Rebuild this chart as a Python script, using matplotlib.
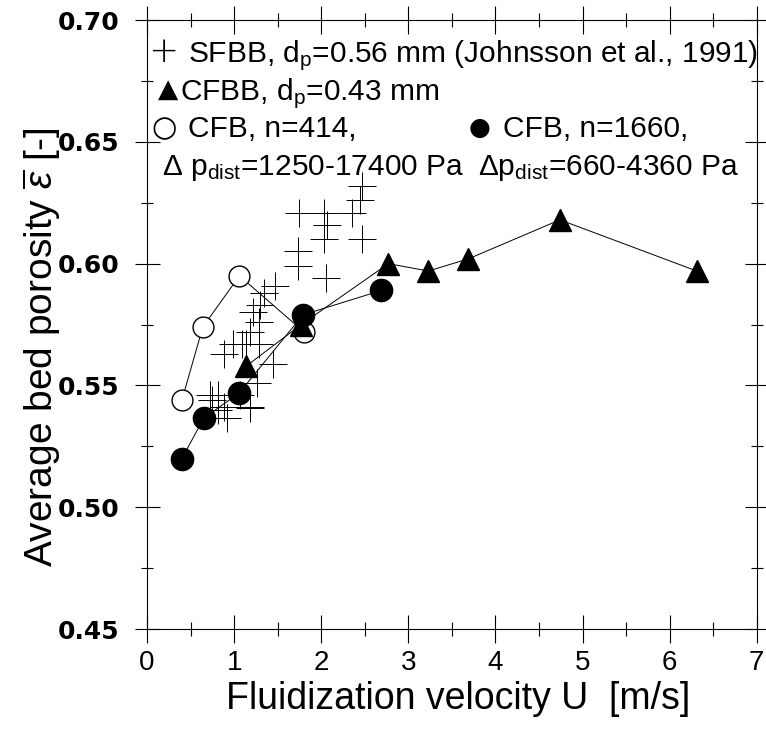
import matplotlib
matplotlib.use("Agg")
import matplotlib.pyplot as plt
from matplotlib.ticker import MultipleLocator

plt.rcParams["font.family"] = ["Liberation Sans", "DejaVu Sans"]
plt.rcParams["mathtext.fontset"] = "custom"
plt.rcParams["mathtext.rm"] = "Liberation Sans"
plt.rcParams["mathtext.it"] = "Liberation Sans:italic"
plt.rcParams["mathtext.bf"] = "Liberation Sans:bold"

# SFBB, dp=0.56 mm (Johnsson et al., 1991) - scattered crosses
sfbb_u = [1.74, 2.03, 2.35, 2.47, 2.45, 2.07, 2.03, 2.47, 1.73, 1.73, 2.05,
          1.47, 1.34, 1.30, 1.22, 1.28, 1.18, 1.09, 0.99, 0.88, 1.13, 1.28,
          1.45, 1.26, 0.82, 0.72, 1.18, 0.88, 0.92, 0.74, 0.82, 1.07, 1.18]
sfbb_eps = [0.621, 0.621, 0.621, 0.632, 0.626, 0.616, 0.610, 0.610, 0.605, 0.599, 0.594,
            0.591, 0.588, 0.583, 0.580, 0.576, 0.572, 0.567, 0.567, 0.563, 0.567, 0.567,
            0.559, 0.551, 0.546, 0.546, 0.541, 0.541, 0.5365, 0.544, 0.540, 0.546, 0.5406]

# CFBB, dp=0.43 mm
cfbb_u = [1.14, 1.77, 2.77, 3.23, 3.69, 4.74, 6.31]
cfbb_eps = [0.558, 0.575, 0.600, 0.597, 0.602, 0.618, 0.597]

# CFB, n=414
cfb414_u = [0.40, 0.64, 1.06, 1.80]
cfb414_eps = [0.544, 0.574, 0.595, 0.572]

# CFB, n=1660
cfb1660_u = [0.40, 0.65, 1.06, 1.79, 2.69]
cfb1660_eps = [0.520, 0.5365, 0.547, 0.579, 0.589]

fig = plt.figure(figsize=(7.66, 7.31), dpi=100)
ax = fig.add_axes([0.192, 0.1395, 0.796, 0.833])

ax.plot(sfbb_u, sfbb_eps, ls="none", marker="+", ms=20, mew=0.7, color="black")
ax.plot(cfb414_u, cfb414_eps, color="black", lw=0.7, marker="o", ms=15,
        mfc="white", mec="black", mew=1.0)
ax.plot(cfb1660_u, cfb1660_eps, color="black", lw=0.7, marker="o", ms=16,
        mfc="black", mec="black")
ax.plot(cfbb_u, cfbb_eps, color="black", lw=0.7, marker="^", ms=16,
        mfc="black", mec="black")

ax.set_xlim(0, 7)
ax.set_ylim(0.45, 0.70)
ax.xaxis.set_major_locator(MultipleLocator(1))
ax.xaxis.set_minor_locator(MultipleLocator(0.5))
ax.yaxis.set_major_locator(MultipleLocator(0.05))
ax.yaxis.set_minor_locator(MultipleLocator(0.025))
ax.xaxis.set_major_formatter(plt.FuncFormatter(lambda v, p: f"{v:.0f}"))
ax.yaxis.set_major_formatter(plt.FuncFormatter(lambda v, p: f"{v:.2f}"))

ax.tick_params(axis="x", which="major", direction="inout", length=20, width=0.8,
               top=True, bottom=True, labelsize=20, pad=5)
ax.tick_params(axis="x", which="minor", direction="inout", length=10, width=0.8,
               top=True, bottom=True)
ax.tick_params(axis="y", which="major", direction="inout", length=18, width=0.8,
               left=True, right=True, labelsize=18, pad=11)
ax.tick_params(axis="y", which="minor", direction="inout", length=8, width=0.8,
               left=True, right=True)
for lab in ax.get_yticklabels():
    lab.set_family("DejaVu Sans")
    lab.set_fontweight("bold")
for sp in ax.spines.values():
    sp.set_linewidth(0.8)

ax.set_xlabel("Fluidization velocity U  [m/s]", fontsize=27)
ax.set_ylabel(r"Average bed porosity $\overline{\varepsilon}$ [-]", fontsize=28)
ax.yaxis.set_label_coords(-0.138, 0.463)
ax.xaxis.set_label_coords(0.51, -0.085)

# legend drawn as text
fs = 21.5
tr = ax.transAxes
ax.text(0.026, 0.947, "+", transform=tr, fontsize=26, va="center", ha="center",
        family="DejaVu Sans", fontweight="light")
ax.text(0.067, 0.931, r"SFBB, d$_\mathrm{p}$=0.56 mm (Johnsson et al., 1991)",
        transform=tr, fontsize=fs, va="baseline", ha="left")
ax.text(0.034, 0.885, "\u25B2", transform=tr, fontsize=19, va="center", ha="center",
        family="DejaVu Sans")
ax.text(0.054, 0.869, r"CFBB, d$_\mathrm{p}$=0.43 mm", transform=tr, fontsize=fs,
        va="baseline", ha="left")
ax.text(0.028, 0.823, "\u25CB", transform=tr, fontsize=21, va="center", ha="center",
        family="DejaVu Sans")
ax.text(0.067, 0.808, "CFB, n=414,", transform=tr, fontsize=fs, va="baseline", ha="left")
ax.text(0.025, 0.745, r"Δ p$_\mathrm{dist}$=1250-17400 Pa", transform=tr, fontsize=fs,
        va="baseline", ha="left")
ax.text(0.546, 0.823, "\u25CF", transform=tr, fontsize=18, va="center", ha="center",
        family="DejaVu Sans")
ax.text(0.584, 0.808, "CFB, n=1660,", transform=tr, fontsize=fs, va="baseline", ha="left")
ax.text(0.543, 0.745, r"Δp$_\mathrm{dist}$=660-4360 Pa", transform=tr, fontsize=fs,
        va="baseline", ha="left")

fig.savefig("out.png", dpi=100)
